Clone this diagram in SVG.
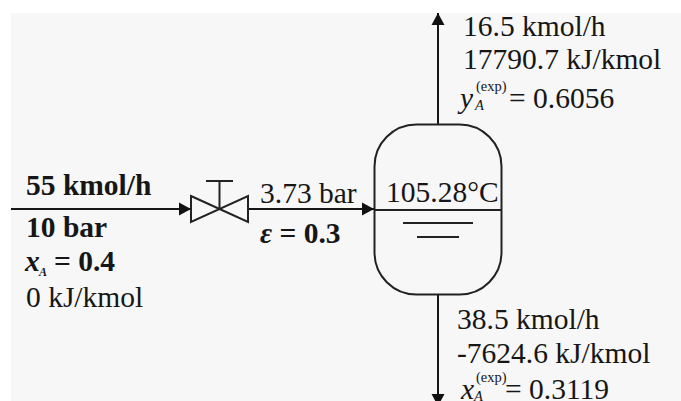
<svg xmlns="http://www.w3.org/2000/svg" width="681" height="401" viewBox="0 0 681 401">
<defs>
<marker id="arrow" markerUnits="userSpaceOnUse" markerWidth="13" markerHeight="14" refX="12" refY="7" orient="auto"><path d="M0,0.500 L12,7 L0,13.500 Z" fill="#111"/></marker>
</defs>
<style>
.t{font-family:"Liberation Serif","Times New Roman",serif;font-size:29.500px;fill:#161616}
.b{font-weight:bold}
.i{font-style:italic}
.s{font-size:14.500px}
.a{font-size:12px}
.l{fill:none;stroke:#222;stroke-width:2}
.c{fill:none;stroke:#161616;stroke-width:2}
</style>
<rect width="681" height="401" fill="#fff"/>
<rect x="11" y="13" width="670" height="388" fill="#f7f7f7"/>
<g id="connectors">
<path class="c" d="M11,209 H191" marker-end="url(#arrow)"/>
<path class="c" d="M248,209 H374" marker-end="url(#arrow)"/>
<path class="c" d="M438,124 V13" marker-end="url(#arrow)"/>
<path class="c" d="M438,294 V406" marker-end="url(#arrow)"/>
</g>
<g id="valve">
<path class="l" d="M191,196 L248,222 V196 L191,222 Z"/>
<path class="l" d="M219.500,209 V181 M206,181 H233"/>
</g>
<g id="vessel">
<rect class="l" x="374.500" y="124.500" width="127" height="170" rx="42" ry="42"/>
<path class="l" d="M374,210 H501"/>
<path class="l" d="M403,223 H473 M417,237 H459"/>
<text class="t" x="386" y="202">105.28°C</text>
</g>
<g id="feed-label">
<text class="t b" x="26" y="195">55 kmol/h</text>
<text class="t b" x="26" y="237">10 bar</text>
<text class="t b i" x="25" y="271">x</text><text class="t b i a" x="39" y="276">A</text><text class="t b" x="54" y="271">= 0.4</text>
<text class="t" x="26" y="307">0 kJ/kmol</text>
</g>
<g id="valve-label">
<text class="t" x="260" y="203">3.73 bar</text>
<text class="t b" x="260" y="243"><tspan class="i">ε</tspan> = 0.3</text>
</g>
<g id="vapor-label">
<text class="t" x="463" y="36">16.5 kmol/h</text>
<text class="t" x="463" y="69">17790.7 kJ/kmol</text>
<text class="t i" x="460" y="108">y</text><text class="t i s" x="475" y="110">A</text><text class="t s" x="476" y="91">(exp)</text><text class="t" x="509" y="108">= 0.6056</text>
</g>
<g id="liquid-label">
<text class="t" x="457" y="329">38.5 kmol/h</text>
<text class="t" x="457" y="363">-7624.6 kJ/kmol</text>
<text class="t i" x="461" y="399">x</text><text class="t i s" x="474" y="401">A</text><text class="t s" x="476" y="382">(exp)</text><text class="t" x="505" y="399">= 0.3119</text>
</g>
</svg>
